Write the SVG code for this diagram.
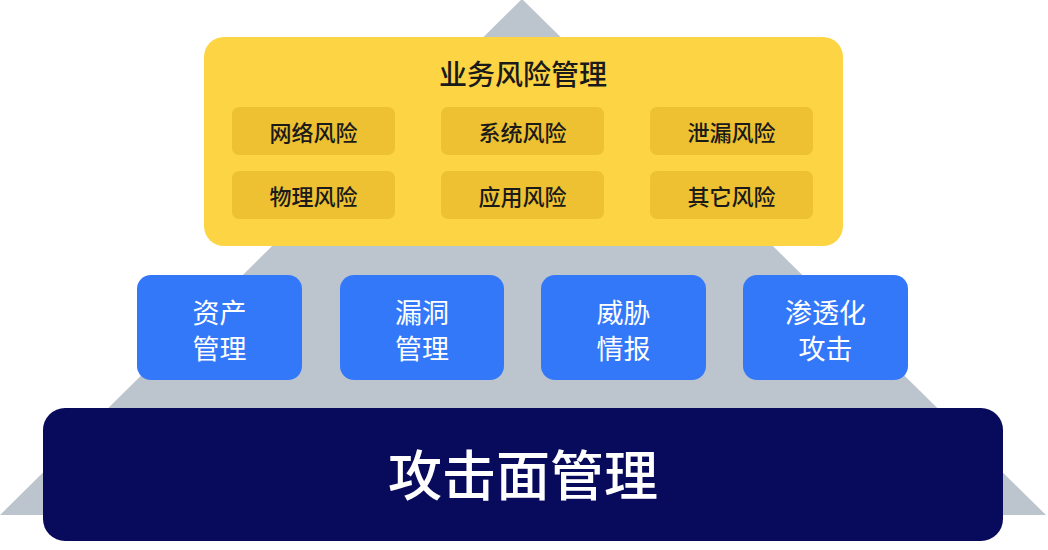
<svg xmlns="http://www.w3.org/2000/svg" width="1048" height="550" viewBox="0 0 1048 550">
<style>
text{font-family:"Noto Sans CJK SC","Noto Sans",sans-serif;text-anchor:middle;dominant-baseline:central}
.inner rect{fill:#EDC131}
.inner text{font-size:22px;font-weight:500;fill:#1a1a1a}
.mid rect{fill:#3478FA}
.mid text{font-size:27px;font-weight:400;fill:#ffffff}
</style>
<rect width="1048" height="550" fill="#ffffff"/>
<polygon id="pyramid" points="522,-1 0,515 1046,515" fill="#BCC5CE"/>
<g id="business-risk">
<rect x="204" y="37" width="639" height="209" rx="20" fill="#FDD544"/>
<text x="523" y="73" font-size="28" font-weight="500" fill="#1a1a1a">业务风险管理</text>
</g>
<g id="network-risk" class="inner"><rect x="232" y="107" width="163" height="48" rx="7"/><text x="313.5" y="131">网络风险</text></g>
<g id="system-risk" class="inner"><rect x="441" y="107" width="163" height="48" rx="7"/><text x="522.5" y="131">系统风险</text></g>
<g id="leak-risk" class="inner"><rect x="650" y="107" width="163" height="48" rx="7"/><text x="731.5" y="131">泄漏风险</text></g>
<g id="physical-risk" class="inner"><rect x="232" y="171" width="163" height="48" rx="7"/><text x="313.5" y="195">物理风险</text></g>
<g id="app-risk" class="inner"><rect x="441" y="171" width="163" height="48" rx="7"/><text x="522.5" y="195">应用风险</text></g>
<g id="other-risk" class="inner"><rect x="650" y="171" width="163" height="48" rx="7"/><text x="731.5" y="195">其它风险</text></g>
<g id="asset-mgmt" class="mid"><rect x="137" y="275" width="165" height="105" rx="14"/><text x="219.5" y="311">资产</text><text x="219.5" y="347">管理</text></g>
<g id="vuln-mgmt" class="mid"><rect x="340" y="275" width="164" height="105" rx="14"/><text x="422" y="311">漏洞</text><text x="422" y="347">管理</text></g>
<g id="threat-intel" class="mid"><rect x="541" y="275" width="165" height="105" rx="14"/><text x="623.5" y="311">威胁</text><text x="623.5" y="347">情报</text></g>
<g id="pentest" class="mid"><rect x="743" y="275" width="165" height="105" rx="14"/><text x="825.5" y="311">渗透化</text><text x="825.5" y="347">攻击</text></g>
<g id="attack-surface">
<rect x="43" y="408" width="960" height="133" rx="22" fill="#080A5C"/>
<text x="523" y="472" font-size="54" font-weight="500" fill="#ffffff">攻击面管理</text>
</g>
<g id="connectors"/>
</svg>
